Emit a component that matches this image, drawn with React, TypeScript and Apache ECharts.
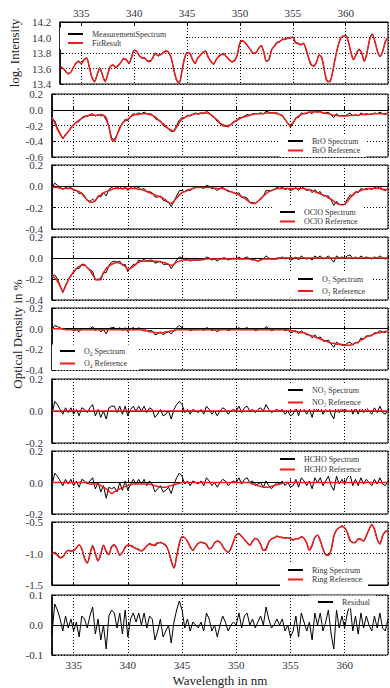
import React, { useEffect, useRef } from "react";
import * as echarts from "echarts";

const WAVELENGTH = [
  333, 333.25, 333.5, 333.75, 334, 334.25, 334.5, 334.75, 335, 335.25, 335.5, 335.75,
  336, 336.25, 336.5, 336.75, 337, 337.25, 337.5, 337.75, 338, 338.25, 338.5, 338.75,
  339, 339.25, 339.5, 339.75, 340, 340.25, 340.5, 340.75, 341, 341.25, 341.5, 341.75,
  342, 342.25, 342.5, 342.75, 343, 343.25, 343.5, 343.75, 344, 344.25, 344.5, 344.75,
  345, 345.25, 345.5, 345.75, 346, 346.25, 346.5, 346.75, 347, 347.25, 347.5, 347.75,
  348, 348.25, 348.5, 348.75, 349, 349.25, 349.5, 349.75, 350, 350.25, 350.5, 350.75,
  351, 351.25, 351.5, 351.75, 352, 352.25, 352.5, 352.75, 353, 353.25, 353.5, 353.75,
  354, 354.25, 354.5, 354.75, 355, 355.25, 355.5, 355.75, 356, 356.25, 356.5, 356.75,
  357, 357.25, 357.5, 357.75, 358, 358.25, 358.5, 358.75, 359, 359.25, 359.5, 359.75,
  360, 360.25, 360.5, 360.75, 361, 361.25, 361.5, 361.75, 362, 362.25, 362.5, 362.75,
  363, 363.25, 363.5, 363.75, 364,
];

const FIT_RESULT = [
  13.62, 13.60, 13.57, 13.53, 13.55, 13.61, 13.67, 13.69, 13.66, 13.71, 13.74, 13.62,
  13.49, 13.43, 13.52, 13.60, 13.52, 13.43, 13.53, 13.62, 13.65, 13.61, 13.64, 13.68,
  13.73, 13.71, 13.67, 13.74, 13.84, 13.82, 13.76, 13.74, 13.73, 13.70, 13.69, 13.74,
  13.79, 13.77, 13.78, 13.80, 13.83, 13.81, 13.74, 13.58, 13.46, 13.41, 13.55, 13.72,
  13.80, 13.80, 13.72, 13.67, 13.73, 13.77, 13.81, 13.82, 13.75, 13.69, 13.66, 13.71,
  13.76, 13.78, 13.78, 13.75, 13.71, 13.69, 13.70, 13.78, 13.93, 13.96, 13.93, 13.89,
  13.84, 13.80, 13.80, 13.86, 13.89, 13.82, 13.69, 13.72, 13.84, 13.89, 13.93, 13.95,
  13.97, 13.98, 13.99, 14.00, 14.00, 13.94, 13.92, 13.91, 13.92, 13.85, 13.73, 13.65,
  13.63, 13.69, 13.77, 13.74, 13.56, 13.44, 13.43, 13.55, 13.72, 13.88, 13.98, 14.02,
  14.02, 13.95, 13.80, 13.72, 13.78, 13.85, 13.80, 13.70, 13.79, 13.97, 14.04, 13.96,
  13.82, 13.76, 13.82, 13.95, 14.00,
];

const MEASUREMENT = [
  13.63, 13.61, 13.56, 13.54, 13.55, 13.62, 13.66, 13.70, 13.66, 13.72, 13.73, 13.63,
  13.48, 13.44, 13.52, 13.61, 13.51, 13.44, 13.52, 13.63, 13.64, 13.62, 13.65, 13.68,
  13.72, 13.72, 13.66, 13.75, 13.83, 13.82, 13.77, 13.73, 13.74, 13.70, 13.70, 13.73,
  13.80, 13.76, 13.78, 13.81, 13.82, 13.81, 13.73, 13.59, 13.45, 13.42, 13.56, 13.73,
  13.81, 13.79, 13.72, 13.66, 13.74, 13.77, 13.80, 13.83, 13.74, 13.70, 13.65, 13.72,
  13.75, 13.78, 13.79, 13.74, 13.72, 13.68, 13.71, 13.77, 13.94, 13.95, 13.94, 13.88,
  13.85, 13.79, 13.81, 13.85, 13.90, 13.81, 13.70, 13.71, 13.85, 13.88, 13.94, 13.94,
  13.98, 13.97, 14.00, 13.99, 14.01, 13.93, 13.93, 13.90, 13.93, 13.84, 13.74, 13.64,
  13.64, 13.68, 13.78, 13.73, 13.57, 13.43, 13.44, 13.54, 13.73, 13.87, 13.99, 14.01,
  14.03, 13.94, 13.81, 13.71, 13.79, 13.84, 13.81, 13.69, 13.80, 13.96, 14.05, 13.95,
  13.83, 13.75, 13.83, 13.94, 14.01,
];

const BRO_REF = [
  -0.10, -0.17, -0.25, -0.31, -0.36, -0.32, -0.28, -0.23, -0.19, -0.16, -0.13, -0.11,
  -0.09, -0.08, -0.07, -0.07, -0.07, -0.07, -0.06, -0.07, -0.10, -0.22, -0.38, -0.40,
  -0.32, -0.24, -0.17, -0.14, -0.12, -0.09, -0.07, -0.06, -0.06, -0.05, -0.05, -0.05,
  -0.06, -0.07, -0.09, -0.12, -0.15, -0.18, -0.21, -0.24, -0.26, -0.27, -0.22, -0.16,
  -0.12, -0.10, -0.08, -0.07, -0.06, -0.05, -0.05, -0.04, -0.04, -0.04, -0.05, -0.07,
  -0.10, -0.13, -0.17, -0.20, -0.21, -0.20, -0.19, -0.16, -0.14, -0.12, -0.10, -0.09,
  -0.08, -0.07, -0.06, -0.05, -0.05, -0.05, -0.05, -0.04, -0.04, -0.04, -0.04, -0.05,
  -0.06, -0.08, -0.12, -0.17, -0.20, -0.16, -0.11, -0.08, -0.06, -0.05, -0.04, -0.03,
  -0.03, -0.03, -0.03, -0.03, -0.04, -0.04, -0.05, -0.06, -0.07, -0.07, -0.08, -0.08,
  -0.08, -0.08, -0.07, -0.07, -0.07, -0.07, -0.06, -0.06, -0.06, -0.06, -0.05, -0.05,
  -0.05, -0.05, -0.05, -0.05, -0.05,
];

const BRO_SPEC = [
  -0.11, -0.14, -0.23, -0.30, -0.37, -0.31, -0.28, -0.22, -0.20, -0.16, -0.15, -0.10,
  -0.08, -0.08, -0.06, -0.05, -0.08, -0.06, -0.08, -0.07, -0.13, -0.21, -0.36, -0.38,
  -0.32, -0.22, -0.18, -0.12, -0.14, -0.08, -0.05, -0.06, -0.04, -0.05, -0.03, -0.05,
  -0.05, -0.06, -0.11, -0.13, -0.14, -0.20, -0.22, -0.24, -0.28, -0.27, -0.20, -0.13,
  -0.10, -0.10, -0.07, -0.08, -0.06, -0.04, -0.06, -0.04, -0.05, -0.02, -0.04, -0.08,
  -0.10, -0.15, -0.17, -0.19, -0.20, -0.22, -0.19, -0.15, -0.14, -0.10, -0.10, -0.08,
  -0.06, -0.07, -0.05, -0.05, -0.05, -0.04, -0.05, -0.02, -0.03, -0.04, -0.04, -0.04,
  -0.06, -0.07, -0.13, -0.17, -0.22, -0.17, -0.10, -0.10, -0.04, -0.05, -0.05, -0.03,
  -0.05, -0.01, -0.03, -0.01, -0.05, -0.04, -0.03, -0.07, -0.10, -0.05, -0.08, -0.07,
  -0.08, -0.06, -0.04, -0.08, -0.06, -0.08, -0.04, -0.06, -0.05, -0.06, -0.06, -0.04,
  -0.05, -0.03, -0.05, -0.06, -0.04,
];

const OCLO_REF = [
  -0.01, -0.01, -0.01, -0.02, -0.02, -0.02, -0.02, -0.02, -0.03, -0.04, -0.05, -0.07,
  -0.10, -0.13, -0.15, -0.15, -0.13, -0.10, -0.08, -0.06, -0.05, -0.04, -0.03, -0.02,
  -0.02, -0.02, -0.02, -0.02, -0.02, -0.02, -0.02, -0.02, -0.03, -0.03, -0.04, -0.05,
  -0.06, -0.07, -0.08, -0.09, -0.10, -0.11, -0.13, -0.15, -0.16, -0.14, -0.11, -0.08,
  -0.06, -0.05, -0.04, -0.03, -0.02, -0.01, -0.01, -0.01, -0.01, -0.01, -0.01, -0.01,
  -0.02, -0.02, -0.02, -0.02, -0.03, -0.04, -0.05, -0.06, -0.07, -0.08, -0.10, -0.11,
  -0.13, -0.15, -0.16, -0.16, -0.14, -0.12, -0.09, -0.07, -0.05, -0.04, -0.03, -0.02,
  -0.02, -0.02, -0.02, -0.02, -0.02, -0.02, -0.02, -0.02, -0.02, -0.02, -0.03, -0.03,
  -0.04, -0.05, -0.06, -0.07, -0.08, -0.09, -0.11, -0.12, -0.14, -0.16, -0.17, -0.18,
  -0.17, -0.14, -0.11, -0.08, -0.06, -0.05, -0.04, -0.03, -0.03, -0.02, -0.02, -0.02,
  -0.02, -0.02, -0.03, -0.03, -0.03,
];

const OCLO_SPEC = [
  -0.02, 0.03, 0.01, -0.01, -0.03, -0.01, -0.02, -0.01, -0.04, -0.04, -0.07, -0.06,
  -0.09, -0.13, -0.14, -0.12, -0.14, -0.09, -0.10, -0.06, -0.09, -0.03, -0.01, 0.00,
  -0.02, 0.00, -0.03, 0.00, -0.04, -0.01, 0.00, -0.02, -0.01, -0.03, -0.02, -0.05,
  -0.05, -0.06, -0.10, -0.10, -0.09, -0.13, -0.14, -0.15, -0.19, -0.14, -0.09, -0.04,
  -0.04, -0.05, -0.03, -0.04, -0.02, -0.01, -0.01, -0.01, -0.02, 0.01, 0.00, -0.02,
  -0.02, -0.04, -0.02, -0.01, -0.03, -0.05, -0.05, -0.06, -0.07, -0.06, -0.10, -0.10,
  -0.11, -0.15, -0.15, -0.16, -0.14, -0.11, -0.09, -0.04, -0.04, -0.04, -0.03, -0.01,
  -0.02, -0.01, -0.03, -0.02, -0.04, -0.03, -0.01, -0.04, 0.00, -0.02, -0.04, -0.03,
  -0.06, -0.03, -0.06, -0.05, -0.09, -0.09, -0.09, -0.13, -0.18, -0.14, -0.17, -0.17,
  -0.17, -0.12, -0.08, -0.09, -0.05, -0.06, -0.02, -0.03, -0.02, -0.02, -0.03, -0.01,
  -0.02, 0.00, -0.03, -0.04, -0.02,
];

const O3_REF = [
  -0.17, -0.19, -0.22, -0.27, -0.32, -0.27, -0.21, -0.17, -0.13, -0.10, -0.08, -0.07,
  -0.07, -0.09, -0.12, -0.16, -0.20, -0.21, -0.19, -0.14, -0.10, -0.08, -0.06, -0.05,
  -0.04, -0.05, -0.06, -0.08, -0.11, -0.10, -0.08, -0.06, -0.04, -0.03, -0.03, -0.03,
  -0.03, -0.03, -0.03, -0.03, -0.04, -0.04, -0.05, -0.06, -0.07, -0.06, -0.04, -0.03,
  -0.02, -0.02, -0.02, -0.02, -0.02, -0.02, -0.02, -0.02, -0.01, -0.01, -0.01, -0.01,
  -0.01, -0.01, -0.01, -0.01, -0.01, -0.01, -0.01, -0.01, -0.01, -0.01, -0.01, -0.01,
  -0.01, -0.01, -0.02, -0.02, -0.03, -0.02, -0.01, -0.01, -0.01, -0.01, -0.01, -0.01,
  0.00, 0.00, 0.00, 0.00, 0.00, 0.00, 0.00, 0.00, 0.00, 0.00, 0.00, 0.00,
  0.00, 0.00, 0.00, 0.00, 0.00, 0.00, 0.00, 0.00, 0.00, 0.00, 0.00, 0.00,
  0.00, 0.00, 0.00, 0.00, 0.00, 0.00, 0.00, 0.00, 0.00, 0.00, 0.00, 0.00,
  0.00, 0.00, 0.00, 0.00, 0.00,
];

const O3_SPEC = [
  -0.18, -0.16, -0.20, -0.26, -0.33, -0.26, -0.21, -0.16, -0.14, -0.10, -0.10, -0.06,
  -0.06, -0.09, -0.11, -0.13, -0.21, -0.20, -0.21, -0.14, -0.14, -0.07, -0.04, -0.03,
  -0.04, -0.03, -0.07, -0.06, -0.13, -0.09, -0.06, -0.06, -0.02, -0.03, -0.01, -0.03,
  -0.02, -0.02, -0.05, -0.04, -0.03, -0.06, -0.06, -0.06, -0.10, -0.06, -0.02, 0.01,
  0.00, -0.02, -0.01, -0.03, -0.02, -0.02, -0.02, -0.01, -0.02, 0.01, 0.00, -0.02,
  -0.01, -0.03, -0.01, 0.00, 0.00, -0.02, -0.01, 0.00, -0.01, 0.01, -0.01, 0.00,
  0.01, -0.01, -0.01, -0.02, -0.03, -0.01, -0.01, 0.02, 0.00, -0.01, -0.01, 0.00,
  0.00, 0.01, -0.01, 0.00, -0.02, -0.01, 0.01, -0.02, 0.02, 0.00, -0.01, 0.00,
  -0.02, 0.02, 0.00, 0.02, -0.01, 0.00, 0.02, -0.01, -0.04, 0.02, 0.00, 0.01,
  0.00, 0.02, 0.03, -0.01, 0.01, -0.01, 0.02, 0.00, 0.01, 0.00, -0.01, 0.01,
  0.00, 0.02, 0.00, -0.01, 0.01,
];

const O4_REF = [
  0.00, 0.00, 0.00, 0.00, 0.00, -0.01, -0.01, -0.01, -0.01, -0.01, -0.01, -0.01,
  -0.01, -0.01, -0.01, -0.01, -0.01, -0.01, -0.01, -0.01, -0.01, -0.01, -0.01, -0.01,
  -0.01, -0.01, -0.01, -0.01, -0.01, -0.01, -0.01, -0.01, -0.01, -0.01, -0.02, -0.02,
  -0.03, -0.03, -0.04, -0.04, -0.04, -0.04, -0.03, -0.03, -0.02, -0.02, -0.01, -0.01,
  -0.01, -0.01, -0.01, -0.01, -0.01, -0.01, -0.01, -0.01, -0.01, -0.01, -0.01, -0.01,
  -0.01, -0.01, -0.01, -0.01, -0.01, -0.01, -0.01, -0.01, -0.01, -0.01, -0.01, -0.01,
  -0.01, -0.01, -0.01, -0.01, -0.01, -0.01, -0.01, -0.01, -0.01, -0.01, -0.01, -0.01,
  -0.01, -0.01, -0.01, -0.01, -0.02, -0.02, -0.03, -0.03, -0.04, -0.04, -0.05, -0.06,
  -0.07, -0.08, -0.09, -0.10, -0.11, -0.12, -0.13, -0.14, -0.14, -0.15, -0.15, -0.16,
  -0.16, -0.16, -0.16, -0.15, -0.14, -0.13, -0.11, -0.10, -0.08, -0.07, -0.06, -0.05,
  -0.04, -0.04, -0.03, -0.03, -0.02,
];

const O4_SPEC = [
  -0.01, 0.03, 0.02, 0.01, -0.01, 0.00, -0.01, 0.00, -0.02, -0.01, -0.03, 0.00,
  0.00, -0.01, 0.00, 0.02, -0.02, 0.00, -0.03, -0.01, -0.05, 0.00, 0.01, 0.01,
  -0.01, 0.01, -0.02, 0.01, -0.03, 0.00, 0.01, -0.01, 0.01, -0.01, 0.00, -0.02,
  -0.02, -0.02, -0.06, -0.05, -0.03, -0.06, -0.04, -0.03, -0.05, -0.02, 0.01, 0.03,
  0.01, -0.01, 0.00, -0.02, -0.01, -0.01, -0.01, 0.00, -0.02, 0.01, 0.00, -0.02,
  -0.01, -0.03, -0.01, 0.00, 0.00, -0.02, -0.01, 0.00, -0.01, 0.01, -0.01, 0.00,
  0.01, -0.01, 0.00, -0.02, -0.01, 0.00, -0.01, 0.02, 0.00, -0.02, -0.01, 0.00,
  -0.01, 0.00, -0.02, -0.01, -0.04, -0.03, -0.02, -0.05, -0.02, -0.04, -0.06, -0.06,
  -0.09, -0.06, -0.09, -0.08, -0.12, -0.12, -0.11, -0.15, -0.18, -0.13, -0.15, -0.15,
  -0.16, -0.14, -0.13, -0.16, -0.13, -0.14, -0.09, -0.10, -0.07, -0.07, -0.07, -0.04,
  -0.04, -0.02, -0.03, -0.04, -0.01,
];

const NO2_REF = [
  0.00, 0.00, 0.00, 0.00, 0.00, 0.00, 0.00, 0.00, 0.00, 0.00, 0.00, 0.00,
  0.00, 0.00, 0.00, 0.00, 0.00, 0.00, 0.00, 0.00, 0.00, 0.00, 0.00, 0.00,
  0.00, 0.00, 0.00, 0.00, 0.00, 0.00, 0.00, 0.00, 0.00, 0.00, 0.00, 0.00,
  0.00, 0.00, 0.00, 0.00, 0.00, 0.00, 0.00, 0.00, 0.00, 0.00, 0.00, 0.00,
  0.00, 0.00, 0.00, 0.00, 0.00, 0.00, 0.00, 0.00, 0.00, 0.00, 0.00, 0.00,
  0.00, 0.00, 0.00, 0.00, 0.00, 0.00, 0.00, 0.00, 0.00, 0.00, 0.00, 0.00,
  0.00, 0.00, 0.00, 0.00, 0.00, 0.00, 0.00, 0.00, 0.00, 0.00, 0.00, 0.00,
  0.00, 0.00, 0.00, 0.00, 0.00, 0.00, 0.00, 0.00, 0.00, 0.00, 0.00, 0.00,
  0.00, 0.00, 0.00, 0.00, 0.00, 0.00, 0.00, 0.00, 0.00, 0.00, 0.00, 0.00,
  0.00, 0.00, 0.00, 0.00, 0.00, 0.00, 0.00, 0.00, 0.00, 0.00, 0.00, 0.00,
  0.00, 0.00, 0.00, 0.00, 0.00,
];

const NO2_SPEC = [
  -0.02, 0.06, 0.04, 0.01, -0.02, 0.02, -0.01, 0.02, -0.02, 0.01, -0.03, 0.02,
  0.01, -0.01, 0.02, 0.04, -0.03, 0.01, -0.04, 0.00, -0.05, 0.02, 0.03, 0.03,
  -0.01, 0.03, -0.02, 0.03, -0.03, 0.01, 0.03, 0.00, 0.03, 0.00, 0.03, -0.01,
  0.02, 0.01, -0.04, -0.02, 0.01, -0.03, -0.02, 0.00, -0.05, 0.01, 0.04, 0.06,
  0.04, -0.01, 0.01, -0.02, 0.01, 0.00, -0.01, 0.01, -0.02, 0.03, 0.01, -0.02,
  0.00, -0.03, 0.00, 0.02, 0.01, -0.02, 0.00, 0.01, 0.00, 0.03, -0.01, 0.02,
  0.03, 0.00, 0.01, -0.01, 0.01, 0.02, 0.00, 0.04, 0.01, -0.01, 0.00, 0.01,
  0.00, 0.01, -0.02, 0.00, -0.03, -0.02, 0.02, -0.03, 0.03, 0.01, -0.02, 0.01,
  -0.04, 0.03, 0.00, 0.03, -0.02, 0.01, 0.04, -0.02, -0.05, 0.04, -0.01, 0.02,
  -0.01, 0.03, 0.05, -0.02, 0.02, -0.02, 0.03, -0.01, 0.02, 0.00, -0.02, 0.02,
  -0.01, 0.03, -0.01, -0.02, 0.01,
];

const HCHO_REF = [
  0.00, 0.00, 0.00, 0.00, 0.00, 0.00, 0.00, 0.00, 0.00, 0.00, 0.00, 0.00,
  0.00, 0.00, -0.01, -0.01, -0.01, -0.01, -0.02, -0.03, -0.04, -0.055, -0.07, -0.06,
  -0.05, -0.04, -0.03, -0.025, -0.02, -0.015, -0.01, -0.01, -0.01, -0.01, -0.01, -0.01,
  -0.01, -0.015, -0.02, -0.025, -0.03, -0.03, -0.03, -0.025, -0.02, -0.015, -0.01, -0.005,
  0.00, 0.00, 0.00, 0.00, 0.00, 0.00, 0.00, 0.00, 0.00, 0.00, 0.00, 0.00,
  0.00, 0.00, 0.00, 0.00, 0.00, 0.00, 0.00, 0.00, 0.00, 0.00, 0.00, 0.00,
  0.00, 0.00, -0.01, -0.01, -0.02, -0.025, -0.03, -0.03, -0.03, -0.025, -0.02, -0.015,
  -0.01, -0.005, 0.00, 0.00, 0.00, 0.00, 0.00, 0.00, 0.00, 0.00, 0.00, 0.00,
  0.00, 0.00, 0.00, 0.00, 0.00, 0.00, 0.00, 0.00, 0.00, 0.00, 0.00, 0.00,
  0.00, 0.00, 0.00, 0.00, 0.00, 0.00, 0.00, 0.00, 0.00, 0.00, 0.00, 0.00,
  0.00, 0.00, 0.00, 0.00, 0.00,
];

const HCHO_SPEC = [
  -0.02, 0.06, 0.04, 0.01, -0.02, 0.02, -0.01, 0.02, -0.02, 0.01, -0.03, 0.02,
  0.01, -0.01, 0.01, 0.03, -0.04, 0.00, -0.06, -0.02, -0.10, -0.03, -0.04, -0.03,
  -0.06, 0.00, -0.05, 0.01, -0.05, -0.01, 0.02, -0.01, 0.02, -0.01, 0.02, -0.02,
  0.01, -0.01, -0.06, -0.04, -0.02, -0.06, -0.05, -0.03, -0.07, -0.01, 0.03, 0.06,
  0.04, -0.01, 0.01, -0.02, 0.01, 0.00, -0.01, 0.01, -0.02, 0.03, 0.01, -0.02,
  0.00, -0.03, 0.00, 0.02, 0.01, -0.02, 0.00, 0.01, 0.00, 0.03, -0.01, 0.02,
  0.03, 0.00, 0.01, -0.02, -0.01, 0.00, -0.03, 0.01, -0.02, -0.04, -0.02, 0.00,
  -0.01, 0.01, -0.02, 0.00, -0.03, -0.02, 0.02, -0.03, 0.03, 0.01, -0.02, 0.01,
  -0.04, 0.03, 0.00, 0.03, -0.02, 0.01, 0.04, -0.02, -0.05, 0.04, -0.01, 0.02,
  -0.01, 0.03, 0.05, -0.02, 0.02, -0.02, 0.03, -0.01, 0.02, 0.00, -0.02, 0.02,
  -0.01, 0.03, -0.01, -0.02, 0.01,
];

const RING_REF = [
  -1.00, -1.00, -1.03, -1.07, -1.05, -0.99, -0.95, -0.97, -0.95, -0.91, -0.86, -0.93,
  -1.08, -1.15, -1.02, -0.89, -1.00, -1.12, -1.00, -0.87, -0.96, -1.02, -0.90, -0.87,
  -0.93, -1.03, -0.98, -0.91, -0.86, -0.88, -0.90, -0.92, -0.94, -0.96, -0.93, -0.88,
  -0.85, -0.87, -0.86, -0.83, -0.83, -0.84, -0.87, -0.96, -1.11, -1.23, -1.05, -0.85,
  -0.74, -0.75, -0.81, -0.89, -0.95, -0.89, -0.84, -0.82, -0.83, -0.86, -0.93, -0.90,
  -0.83, -0.80, -0.82, -0.89, -0.95, -0.98, -0.92, -0.81, -0.70, -0.69, -0.73, -0.78,
  -0.83, -0.87, -0.81, -0.76, -0.78, -0.86, -0.95, -0.94, -0.82, -0.77, -0.75, -0.73,
  -0.74, -0.75, -0.75, -0.75, -0.76, -0.78, -0.77, -0.76, -0.74, -0.76, -0.83, -0.95,
  -0.86, -0.75, -0.71, -0.80, -0.92, -1.02, -1.03, -0.94, -0.72, -0.63, -0.59, -0.57,
  -0.59, -0.67, -0.80, -0.82, -0.83, -0.76, -0.78, -0.80, -0.72, -0.62, -0.54, -0.62,
  -0.77, -0.85, -0.72, -0.65, -0.64,
];

const RING_SPEC = [
  -1.01, -0.98, -1.01, -1.06, -1.06, -0.98, -0.95, -0.96, -0.96, -0.91, -0.87, -0.92,
  -1.07, -1.15, -1.01, -0.87, -1.01, -1.11, -1.02, -0.87, -0.98, -1.01, -0.88, -0.86,
  -0.93, -1.02, -0.99, -0.89, -0.87, -0.87, -0.89, -0.92, -0.93, -0.96, -0.92, -0.88,
  -0.84, -0.86, -0.88, -0.84, -0.82, -0.85, -0.88, -0.96, -1.13, -1.23, -1.04, -0.83,
  -0.73, -0.75, -0.80, -0.90, -0.95, -0.89, -0.84, -0.82, -0.84, -0.85, -0.92, -0.91,
  -0.83, -0.81, -0.82, -0.88, -0.95, -0.99, -0.92, -0.81, -0.70, -0.68, -0.73, -0.77,
  -0.82, -0.87, -0.80, -0.76, -0.78, -0.85, -0.95, -0.92, -0.81, -0.77, -0.75, -0.72,
  -0.74, -0.74, -0.76, -0.75, -0.77, -0.79, -0.76, -0.77, -0.73, -0.76, -0.84, -0.95,
  -0.88, -0.74, -0.71, -0.79, -0.93, -1.02, -1.02, -0.95, -0.74, -0.62, -0.59, -0.56,
  -0.59, -0.66, -0.78, -0.83, -0.82, -0.77, -0.77, -0.80, -0.71, -0.62, -0.55, -0.61,
  -0.77, -0.84, -0.72, -0.66, -0.63,
];

const RESIDUAL = [
  -0.03, 0.07, 0.05, 0.02, -0.02, 0.03, -0.01, 0.02, -0.02, 0.01, -0.04, 0.03,
  0.02, -0.01, 0.03, 0.06, -0.03, 0.02, -0.05, 0.00, -0.08, 0.03, 0.05, 0.04,
  -0.01, 0.04, -0.03, 0.05, -0.04, 0.02, 0.04, 0.01, 0.04, 0.00, 0.04, -0.01,
  0.03, 0.02, -0.05, -0.02, 0.02, -0.04, -0.02, 0.00, -0.06, 0.01, 0.05, 0.08,
  0.05, -0.01, 0.02, -0.02, 0.01, 0.00, -0.01, 0.01, -0.02, 0.04, 0.02, -0.02,
  0.00, -0.04, 0.00, 0.03, 0.01, -0.02, 0.00, 0.01, 0.00, 0.04, -0.01, 0.03,
  0.04, 0.00, 0.02, -0.01, 0.01, 0.03, 0.00, 0.06, 0.02, -0.01, 0.00, 0.02,
  0.00, 0.02, -0.02, 0.00, -0.04, -0.02, 0.03, -0.04, 0.04, 0.01, -0.02, 0.01,
  -0.05, 0.04, 0.00, 0.04, -0.02, 0.01, 0.05, -0.03, -0.08, 0.05, -0.01, 0.03,
  -0.01, 0.04, 0.07, -0.02, 0.03, -0.03, 0.04, -0.01, 0.03, 0.00, -0.02, 0.03,
  -0.01, 0.04, -0.01, -0.02, 0.02,
];

const FONT = '"Liberation Serif", "DejaVu Serif", serif';
const LABEL_COLOR = "#2e3440";
const RED = "#f01c1c";

const PANELS = [
  { spec: MEASUREMENT, ref: FIT_RESULT, specName: "MeasurementSpectrum", refName: "FitResult", min: 13.4, max: 14.2, interval: 0.2, smooth: true },
  { spec: BRO_SPEC, ref: BRO_REF, specName: "BrO Spectrum", refName: "BrO Reference", min: -0.6, max: 0.2, interval: 0.2 },
  { spec: OCLO_SPEC, ref: OCLO_REF, specName: "OClO Spectrum", refName: "OClO Reference", min: -0.4, max: 0.2, interval: 0.2 },
  { spec: O3_SPEC, ref: O3_REF, specName: "O₃ Spectrum", refName: "O₃ Reference", min: -0.4, max: 0.2, interval: 0.2 },
  { spec: O4_SPEC, ref: O4_REF, specName: "O₄ Spectrum", refName: "O₄ Reference", min: -0.4, max: 0.2, interval: 0.2 },
  { spec: NO2_SPEC, ref: NO2_REF, specName: "NO₂ Spectrum", refName: "NO₂ Reference", min: -0.2, max: 0.2, interval: 0.2 },
  { spec: HCHO_SPEC, ref: HCHO_REF, specName: "HCHO Spectrum", refName: "HCHO Reference", min: -0.2, max: 0.2, interval: 0.2 },
  { spec: RING_SPEC, ref: RING_REF, specName: "Ring Spectrum", refName: "Ring Reference", min: -1.5, max: -0.5, interval: 0.5, smooth: true },
  { spec: RESIDUAL, ref: null, specName: "Residual", refName: null, min: -0.1, max: 0.1, interval: 0.1 },
];

// layout: grid top/height, legend icon left x, first legend row centre y, row gap, right padding
const LAYOUT = [
  { top: 22, height: 62, lx: 68, ly: 34, gap: 0, pr: 18 },
  { top: 94, height: 63, lx: 288, ly: 141, gap: 0.5, pr: 6 },
  { top: 165, height: 64, lx: 280, ly: 212, gap: 0.5, pr: 6 },
  { top: 237, height: 63, lx: 298, ly: 279, gap: 3, pr: 6 },
  { top: 308, height: 62, lx: 60, ly: 351, gap: 3.5, pr: 12 },
  { top: 379, height: 64, lx: 288, ly: 390, gap: 3.5, pr: 6 },
  { top: 451, height: 63, lx: 280, ly: 459, gap: 1.5, pr: 6 },
  { top: 522, height: 63, lx: 288, ly: 570, gap: 0.5, pr: 6 },
  { top: 595, height: 62, lx: 318, ly: 602, gap: 0, pr: 6 },
];

function buildOption() {
  const grids: any[] = [];
  const xAxes: any[] = [];
  const yAxes: any[] = [];
  const series: any[] = [];
  const legends: any[] = [];
  const last = PANELS.length - 1;

  PANELS.forEach((p, i) => {
    const L = LAYOUT[i];
    grids.push({
      left: 52,
      width: 336,
      top: L.top,
      height: L.height,
      show: true,
      borderColor: "#000",
      borderWidth: 1,
    });
    const showX = i === 0 || i === last;
    xAxes.push({
      type: "value",
      gridIndex: i,
      min: 333,
      max: 364,
      splitNumber: 6,
      position: i === 0 ? "top" : "bottom",
      axisLine: { show: true, lineStyle: { color: "#000", width: 1 } },
      axisTick: { show: true, inside: true, length: 3, lineStyle: { color: "#000" } },
      axisLabel: {
        show: showX,
        showMinLabel: false,
        showMaxLabel: false,
        fontFamily: FONT,
        fontSize: 11,
        color: LABEL_COLOR,
        margin: 4,
      },
      splitLine: { show: true, lineStyle: { color: "#000", type: [1, 2], width: 1 } },
      name: i === last ? "Wavelength in nm" : "",
      nameLocation: "middle",
      nameGap: 19,
      nameTextStyle: { fontFamily: FONT, fontSize: 13, color: "#222" },
    });
    yAxes.push({
      type: "value",
      gridIndex: i,
      min: p.min,
      max: p.max,
      interval: p.interval,
      axisLine: { show: true, lineStyle: { color: "#000", width: 1.5 } },
      axisTick: { show: true, inside: true, length: 3, lineStyle: { color: "#000" } },
      axisLabel: {
        fontFamily: FONT,
        fontSize: 11,
        color: LABEL_COLOR,
        margin: 9,
        formatter: (v: number) => v.toFixed(1),
      },
      splitLine: { show: true, lineStyle: { color: "#000", type: [1, 2], width: 1 } },
      name: i === 0 ? "log. Intensity" : "",
      nameLocation: "middle",
      nameGap: 28,
      nameTextStyle: { fontFamily: FONT, fontSize: 13, color: "#222" },
    });
    series.push({
      name: p.specName,
      type: "line",
      xAxisIndex: i,
      yAxisIndex: i,
      data: WAVELENGTH.map((w, k) => [w, p.spec[k]]),
      symbol: "none",
      showSymbol: false,
      smooth: p.smooth ? 0.3 : false,
      lineStyle: { color: "#000", width: 1 },
      itemStyle: { color: "#000" },
      z: 2,
    });
    if (p.ref) {
      series.push({
        name: p.refName,
        type: "line",
        xAxisIndex: i,
        yAxisIndex: i,
        data: WAVELENGTH.map((w, k) => [w, p.ref![k]]),
        symbol: "none",
        showSymbol: false,
        smooth: p.smooth ? 0.3 : 0.2,
        lineStyle: { color: RED, width: 1.5 },
        itemStyle: { color: RED },
        z: 3,
      });
    }
    const names = p.refName ? [p.specName, p.refName] : [p.specName];
    legends.push({
      data: names,
      orient: "vertical",
      left: L.lx - 8,
      top: L.ly - 4.5 - 2,
      itemWidth: 15,
      itemHeight: 2,
      icon: "rect",
      itemGap: L.gap,
      padding: [2, L.pr, 2, 8],
      backgroundColor: "#fff",
      selectedMode: false,
      textStyle: {
        fontFamily: FONT,
        fontSize: 8,
        lineHeight: 9,
        color: "#333",
        padding: [0, 0, 0, 4],
      },
    });
  });

  return {
    animation: false,
    backgroundColor: "#fff",
    grid: grids,
    xAxis: xAxes,
    yAxis: yAxes,
    series,
    legend: legends,
    graphic: [
      {
        type: "text",
        x: 17,
        y: 334,
        rotation: Math.PI / 2,
        style: {
          text: "Optical Density in %",
          fontFamily: FONT,
          fontSize: 13,
          fill: "#222",
          align: "center",
          verticalAlign: "middle",
          textAlign: "center",
          textVerticalAlign: "middle",
        },
      },
    ],
  };
}

export default function App() {
  const ref = useRef<HTMLDivElement>(null);
  useEffect(() => {
    if (!ref.current) return;
    const chart = echarts.init(ref.current, undefined, { renderer: "svg" });
    chart.setOption(buildOption() as any);
    return () => chart.dispose();
  }, []);
  return (
    <div
      ref={ref}
      style={{ position: "fixed", left: 0, top: 0, width: 390, height: 688, background: "#fff" }}
    />
  );
}
